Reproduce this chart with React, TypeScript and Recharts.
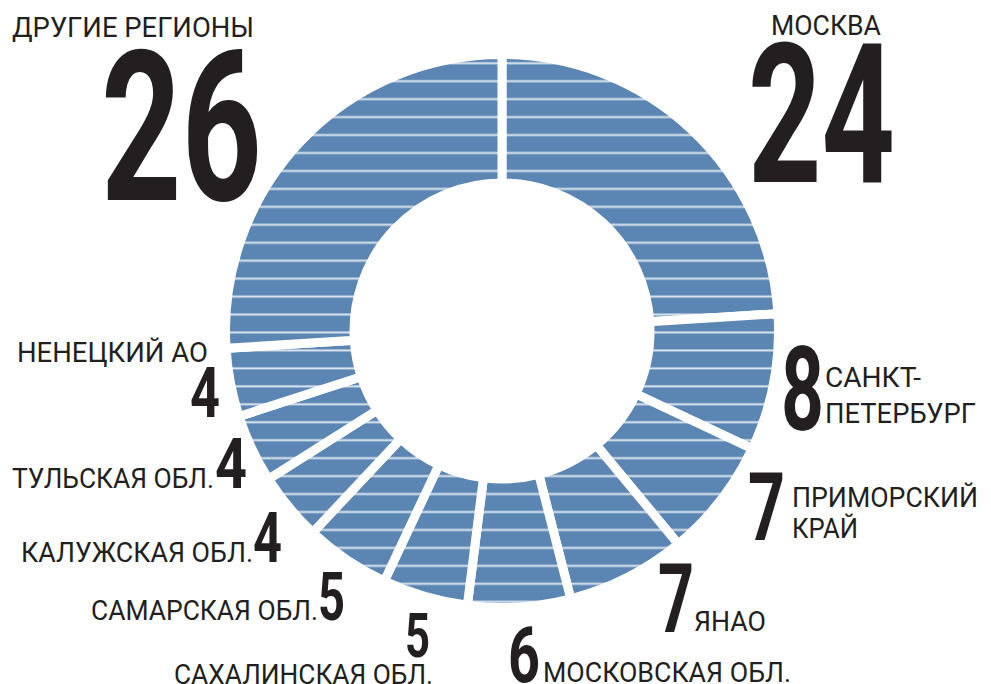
import { PieChart, Pie, Cell } from "recharts";

// доли по регионам, % — по часовой стрелке от 12 часов
const regions = [
  "МОСКВА",
  "САНКТ-ПЕТЕРБУРГ",
  "ПРИМОРСКИЙ КРАЙ",
  "ЯНАО",
  "МОСКОВСКАЯ ОБЛ.",
  "САХАЛИНСКАЯ ОБЛ.",
  "САМАРСКАЯ ОБЛ.",
  "КАЛУЖСКАЯ ОБЛ.",
  "ТУЛЬСКАЯ ОБЛ.",
  "НЕНЕЦКИЙ АО",
  "ДРУГИЕ РЕГИОНЫ",
];
const shares = [24, 8, 7, 7, 6, 5, 5, 4, 4, 4, 26];
// подпись может идти в две строки
const nameLines = [
  ["МОСКВА"],
  ["САНКТ-", "ПЕТЕРБУРГ"],
  ["ПРИМОРСКИЙ", "КРАЙ"],
  ["ЯНАО"],
  ["МОСКОВСКАЯ ОБЛ."],
  ["САХАЛИНСКАЯ ОБЛ."],
  ["САМАРСКАЯ ОБЛ."],
  ["КАЛУЖСКАЯ ОБЛ."],
  ["ТУЛЬСКАЯ ОБЛ."],
  ["НЕНЕЦКИЙ АО"],
  ["ДРУГИЕ РЕГИОНЫ"],
];

const data = regions.map((name, i) => ({ name, value: shares[i] }));

const BLUE = "#5b86b3";
const STRIPE = "#dbe5ef";
const INK = "#231f20";
const NAME_FONT = "Roboto, 'Liberation Sans', sans-serif";
const NUM_FONT = "'Liberation Sans Narrow', Roboto, 'Liberation Sans', sans-serif";

// раскладка подписей: число (x, базовая линия, ширина, размер) и строки названия
type Layout = {
  num: [number, number, number, number];
  names: [number, number, number][];
};
const layout: Layout[] = [
  { num: [748, 182, 147, 194], names: [[771, 35, 110]] },
  { num: [781, 430, 43, 116], names: [[825, 387, 96], [825, 423, 151]] },
  { num: [748, 540, 37, 95], names: [[792, 507, 186], [792, 538, 66]] },
  { num: [658, 632, 36, 96], names: [[694, 631, 72]] },
  { num: [508, 682, 32, 77], names: [[543, 682, 248]] },
  { num: [405, 657, 25, 62], names: [[174, 684, 259]] },
  { num: [318, 620, 27, 66], names: [[91, 620, 227]] },
  { num: [253, 562, 29, 70], names: [[21, 562, 232]] },
  { num: [215, 488, 32, 70], names: [[12, 488, 202]] },
  { num: [190, 417, 30, 70], names: [[17, 362, 191]] },
  { num: [101, 200, 161, 210], names: [[12, 37, 242]] },
];

function renderLabel(props: any) {
  const i = props.index as number;
  const l = layout[i];
  const [nx, ny, nw, ns] = l.num;
  return (
    <g key={`lbl-${i}`}>
      <text
        x={nx}
        y={ny}
        fontFamily={NUM_FONT}
        fontWeight={700}
        fontSize={ns}
        fill={INK}
        textLength={nw}
        lengthAdjust="spacingAndGlyphs"
      >
        {shares[i]}
      </text>
      {nameLines[i].map((line, j) => (
        <text
          key={j}
          x={l.names[j][0]}
          y={l.names[j][1]}
          fontFamily={NAME_FONT}
          fontSize={28}
          fill={INK}
          textLength={l.names[j][2]}
          lengthAdjust="spacingAndGlyphs"
        >
          {line}
        </text>
      ))}
    </g>
  );
}

export default function App() {
  return (
    <div style={{ width: 991, height: 684, background: "#fff" }}>
      <style>{`body{margin:0}`}</style>
      <PieChart width={991} height={684} margin={{ top: 0, right: 0, bottom: 0, left: 0 }}>
        <defs>
          <pattern
            id="stripes"
            patternUnits="userSpaceOnUse"
            x={0}
            y={0}
            width={20}
            height={17.95}
          >
            <rect x={0} y={0} width={20} height={17.95} fill={BLUE} />
            <rect x={0} y={8.4} width={20} height={2} fill={STRIPE} />
          </pattern>
        </defs>
        <Pie
          data={data}
          dataKey="value"
          nameKey="name"
          cx={502}
          cy={331}
          innerRadius={148}
          outerRadius={276.5}
          startAngle={90}
          endAngle={-270}
          stroke="#fff"
          strokeWidth={9}
          label={renderLabel}
          labelLine={false}
          isAnimationActive={false}
        >
          {data.map((d) => (
            <Cell key={d.name} fill="url(#stripes)" stroke="#fff" strokeWidth={9} />
          ))}
        </Pie>
      </PieChart>
    </div>
  );
}
